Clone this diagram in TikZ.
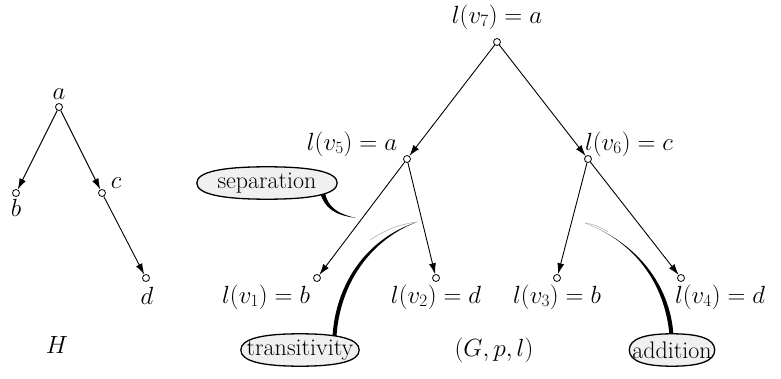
\documentclass[tikz,border=0pt]{standalone}
\usetikzlibrary{arrows.meta,shapes.geometric,backgrounds,calc}
\newcommand\ovalbox[1]{%
  \filldraw[ovalline] (#1.west)
    .. controls ($(#1.north west)+(0,5)$) and ($(#1.north west)!0.18!(#1.north east)$) .. (#1.north)
    .. controls ($(#1.north west)!0.82!(#1.north east)$) and ($(#1.north east)+(0,5)$) .. (#1.east)
    .. controls ($(#1.south east)+(0,-5)$) and ($(#1.south west)!0.82!(#1.south east)$) .. (#1.south)
    .. controls ($(#1.south west)!0.18!(#1.south east)$) and ($(#1.south west)+(0,-5)$) .. cycle;}
\begin{document}
\begin{tikzpicture}[x=1pt,y=-1pt,
  font=\fontsize{24}{28}\selectfont,
  vtx/.style={circle,draw,fill=white,inner sep=0pt,minimum size=7pt,line width=0.8pt},
  edge/.style={line width=0.9pt,-{Latex[length=11pt,width=7pt]}},
  lbl/.style={inner sep=0pt},
  callout/.style={rectangle,inner sep=1pt,minimum height=32pt},
  ovalline/.style={line width=1.3pt,fill=gray!12,draw=black}
]
\useasboundingbox (0,0) rectangle (781,379);
% Graph H
\node[vtx] (ha) at (59,107) {};
\node[vtx] (hb) at (16,193) {};
\node[vtx] (hc) at (102,193) {};
\node[vtx] (hd) at (146,278) {};
\node[lbl] (la) at (59,94) {$a$};
\node[lbl] (lb) at (16,208) {$b$};
\node[lbl] (lc) at (116,183) {$c$};
\node[lbl] (ld) at (147,296) {$d$};
\node[lbl] (H) at (57,345) {$H$};
\draw[edge] (ha) -- (hb);
\draw[edge] (ha) -- (hc);
\draw[edge] (hc) -- (hd);
% Graph G
\node[vtx] (v7) at (497,42) {};
\node[vtx] (v5) at (407,159) {};
\node[vtx] (v6) at (588,159) {};
\node[vtx] (v1) at (317,278) {};
\node[vtx] (v2) at (436,278) {};
\node[vtx] (v3) at (557,278) {};
\node[vtx] (v4) at (681,278) {};
\node[lbl] (l7) at (497,17) {$l(v_7)=a$};
\node[lbl] (l5) at (352,144) {$l(v_5)=a$};
\node[lbl] (l6) at (629,144) {$l(v_6)=c$};
\node[lbl] (l1) at (266,297) {$l(v_1)=b$};
\node[lbl] (l2) at (436,297) {$l(v_2)=d$};
\node[lbl] (l3) at (557,297) {$l(v_3)=b$};
\node[lbl] (l4) at (720,297) {$l(v_4)=d$};
\node[lbl] (G) at (494,350) {$(G,p,l)$};
\draw[edge] (v7) -- (v5);
\draw[edge] (v7) -- (v6);
\draw[edge] (v5) -- (v1);
\draw[edge] (v5) -- (v2);
\draw[edge] (v6) -- (v3);
\draw[edge] (v6) -- (v4);
% Callouts
\node[callout,minimum width=140pt] (sep) at (267,183) {separation};
\node[callout,minimum width=118pt] (tra) at (300,350) {transitivity};
\node[callout,minimum width=85pt] (add) at (672,350) {addition};
\begin{pgfonlayer}{background}
% Callout tails
\fill (320,193) .. controls (325,208) and (334,215) .. (356,218)
      .. controls (335,213) and (328,206) .. (325,193) -- cycle;
\fill (332.5,336) .. controls (336,282) and (368,238) .. (417,222)
      .. controls (370,240) and (340,284) .. (336.5,336) -- cycle;
\fill (669.5,336) .. controls (666,290) and (640,244) .. (585,223)
      .. controls (642,245) and (671,290) .. (673.5,336) -- cycle;
\draw[gray!60,line width=0.6pt] (370,240) .. controls (388,228) and (402,224) .. (417,222);
\draw[gray!60,line width=0.6pt] (608,232) .. controls (600,227) and (593,224) .. (585,223);
\ovalbox{sep}
\ovalbox{tra}
\ovalbox{add}
\end{pgfonlayer}
\end{tikzpicture}
\end{document}
